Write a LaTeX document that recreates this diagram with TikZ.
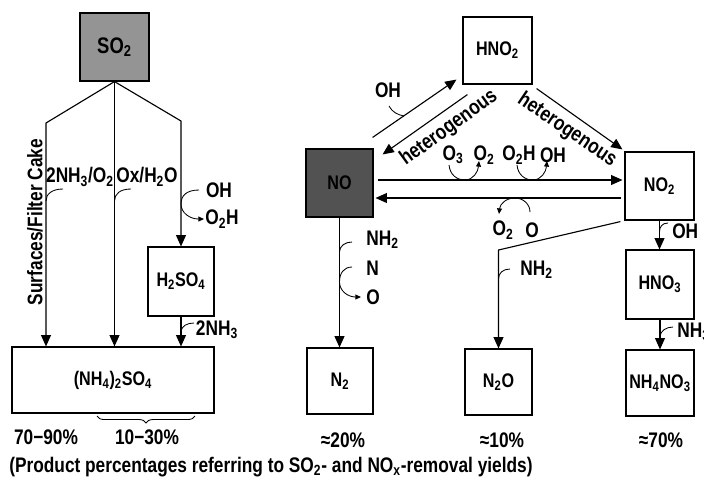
\documentclass[tikz,border=0pt]{standalone}
\usepackage{fontspec}
\setmainfont{Liberation Sans}[FakeStretch=0.82]
\usetikzlibrary{arrows.meta,decorations.pathreplacing,calc}
\begin{document}
\begin{tikzpicture}[x=0.025cm,y=-0.025cm,
  box/.style={draw, line width=0.8pt, inner sep=0pt, font=\fontsize{14}{16}\selectfont\bfseries},
  lab/.style={font=\fontsize{15}{17}\selectfont\bfseries, inner sep=0pt},
  arr/.style={-{Triangle[length=8pt,width=7pt]}, line width=0.8pt},
  hook/.style={line width=0.6pt},
  harr/.style={hook, -{Triangle[length=4pt,width=3.5pt]}}]
\useasboundingbox (0,0) rectangle (704,483);

% boxes
\node[box, fill=black!42, minimum width=1.725cm, minimum height=1.7cm, font=\fontsize{16}{18}\selectfont\bfseries] (so2) at (114.5,47) {SO\textsubscript{2}};
\node[box, minimum width=1.65cm, minimum height=1.725cm] (h2so4) at (181,281.5) {H\textsubscript{2}SO\textsubscript{4}};
\node[box, minimum width=5.05cm, minimum height=1.65cm] (amsulf) at (113,380) {(NH\textsubscript{4})\textsubscript{2}SO\textsubscript{4}};
\node[box, minimum width=1.725cm, minimum height=1.675cm] (hno2) at (497.5,50.5) {HNO\textsubscript{2}};
\node[box, fill=black!68, minimum width=1.675cm, minimum height=1.7cm] (no) at (339.5,183) {NO};
\node[box, minimum width=1.725cm, minimum height=1.7cm] (no2) at (659.5,186) {NO\textsubscript{2}};
\node[box, minimum width=1.7cm, minimum height=1.725cm] (hno3) at (660,284.5) {HNO\textsubscript{3}};
\node[box, minimum width=1.7cm, minimum height=1.65cm] (nh4no3) at (660,383) {NH\textsubscript{4}NO\textsubscript{3}};
\node[box, minimum width=1.65cm, minimum height=1.65cm] (n2) at (340,381) {N\textsubscript{2}};
\node[box, minimum width=1.675cm, minimum height=1.65cm] (n2o) at (498.5,382) {N\textsubscript{2}O};

% SO2 branches
\coordinate (cL) at (46,123);
\coordinate (cR) at (181,121);
\draw[arr] (so2.south) -- (cL) -- (cL |- amsulf.north);
\draw[arr] (so2.south) -- (so2.south |- amsulf.north);
\draw[arr] (so2.south) -- (cR) -- (h2so4.north);
\draw[arr] (h2so4.south) -- (h2so4.south |- amsulf.north);

\draw[hook] (63,189) .. controls (52,189) and (46,194) .. (46,201);
\draw[hook] (131,189) .. controls (120,189) and (114.5,194) .. (114.5,201);
\draw[harr] (199,190) .. controls (186,190) and (181,196) .. (181,204) .. controls (181,213) and (190,219) .. (204,219);
\draw[hook] (194,323) .. controls (187,323) and (182,326) .. (181,331);

\node[lab] (l2nh3o2) at (80,177) {2NH\textsubscript{3}/O\textsubscript{2}};
\node[lab] (loxh2o) at (147,177) {Ox/H\textsubscript{2}O};
\node[lab] (loh1) at (219,190) {OH};
\node[lab] (lo2h1) at (222,219) {O\textsubscript{2}H};
\node[lab] (l2nh3) at (217,330) {2NH\textsubscript{3}};
\node[lab, rotate=90] (lsurf) at (35,222) {Surfaces/Filter Cake};
\draw[hook, decorate, decoration={brace, amplitude=5pt, mirror}] (97,416) -- (195,416);
\node[lab] (p1) at (46,437) {70−90\%};
\node[lab] (p2) at (147,437) {10−30\%};
\node[lab, anchor=west] (cap) at (9,467) {(Product percentages referring to SO\textsubscript{2}- and NO\textsubscript{x}-removal yields)};

% NO / HNO2 / NO2
\draw[arr] ($(no.north east)+(-1,-11)$) -- ($(hno2.south west)+(-6,-5)$);
\draw[hook] (389,106) .. controls (392,112) and (398,115) .. (404,116);
\node[lab] (loh2) at (388,90) {OH};
\draw[arr] ($(hno2.south west)+(5,10)$) -- ($(no.north east)+(9,6)$);
\node[lab, rotate=36] (lhet1) at (449,128) {heterogenous};
\draw[arr] ($(hno2.south east)+(4,4)$) -- ($(no2.north west)+(-2,-2)$);
\node[lab, rotate=-34] (lhet2) at (567,130) {heterogenous};

\draw[arr] ($(no.east)+(4,-3)$) -- ($(no2.west)+(-2,-6)$);
\draw[arr] ($(no2.west)+(-3,12)$) -- ($(no.east)+(2,15)$);
\draw[harr] (449,165) .. controls (450,175) and (457,180) .. (465,180) .. controls (473,180) and (478,172) .. (479,161);
\draw[harr] (517,165) .. controls (518,175) and (525,180) .. (533,180) .. controls (541,180) and (546,172) .. (547,161);
\draw[harr] (530,212) .. controls (530,204) and (523,198) .. (515,198) .. controls (506,198) and (500,204) .. (499,214);
\node[lab] (lo3) at (453,155) {O\textsubscript{3}};
\node[lab] (lo2a) at (484,155) {O\textsubscript{2}};
\node[lab] (lo2h2) at (519,155) {O\textsubscript{2}H};
\node[lab] (loh3) at (553,155) {OH};
\node[lab] (lo2b) at (503,230) {O\textsubscript{2}};
\node[lab] (lo1) at (532,230) {O};

% NO -> N2
\draw[arr] (no.south) -- (no.south |- n2.north);
\draw[hook] (352,242) .. controls (345,242) and (339.5,246) .. (339.5,252);
\draw[harr] (352,267) .. controls (344,267) and (339.5,273) .. (339.5,282) .. controls (339.5,291) and (348,297) .. (361,297);
\node[lab, anchor=west] (lnh2a) at (366,240) {NH\textsubscript{2}};
\node[lab, anchor=west] (ln) at (366,268) {N};
\node[lab, anchor=west] (lo2) at (366,297) {O};

% NO2 -> N2O
\coordinate (cN) at (498.5,250);
\draw[arr] ($(no2.south west)+(-4,1)$) -- (cN) -- (n2o.north);
\draw[hook] (510,269) .. controls (503,269) and (498.5,273) .. (498.5,279);
\node[lab, anchor=west] (lnh2b) at (520,270) {NH\textsubscript{2}};

% NO2 -> HNO3 -> NH4NO3
\draw[arr] (no2.south) -- (no2.south |- hno3.north);
\draw[hook] (668,223) .. controls (662,223) and (659.5,227) .. (659.5,232);
\node[lab, anchor=west] (loh4) at (672,231) {OH};
\draw[arr] (hno3.south) -- (nh4no3.north);
\draw[hook] (673,327) .. controls (666,327) and (660,331) .. (660,337);
\node[lab, anchor=west] (lnh3) at (677,332) {NH\textsubscript{3}};

\node[lab] (q1) at (343,440) {≈20\%};
\node[lab] (q2) at (502,440) {≈10\%};
\node[lab] (q3) at (661,440) {≈70\%};
\end{tikzpicture}
\end{document}
